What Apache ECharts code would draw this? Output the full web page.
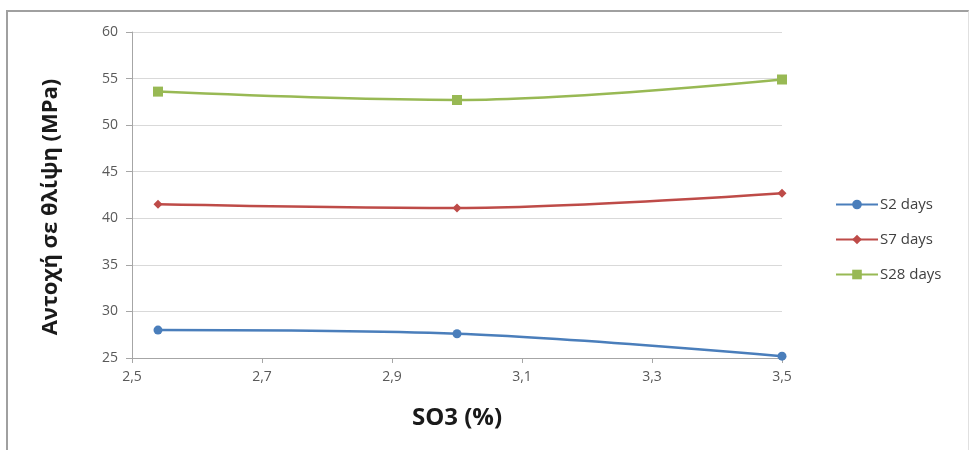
<!DOCTYPE html>
<html><head><meta charset="utf-8">
<script src="https://cdn.jsdelivr.net/npm/echarts@6/dist/echarts.min.js"></script>
<style>
html,body{margin:0;padding:0;background:#fff;}
#frame{position:absolute;left:6px;top:10px;width:963px;height:440px;border-left:2px solid #a0a0a0;border-top:2px solid #a0a0a0;border-right:1px solid #e0e0e0;box-sizing:border-box;}
#c{position:absolute;left:0;top:0;width:971px;height:450px;}
</style></head>
<body><div id="frame"></div><div id="c"></div>
<script>
const so3 = [2.54, 3.0, 3.5];
const s2 = [28.0, 27.6, 25.2];
const s7 = [41.5, 41.1, 42.7];
const s28 = [53.6, 52.7, 54.9];
const seriesNames = ['S2 days', 'S7 days', 'S28 days'];
const colors = ['#4A7EBB', '#BE4B48', '#98B954'];
const symbols = ['circle', 'diamond', 'rect'];
const symbolSizes = [9, 9, 10];
const values = [s2, s7, s28];

const chart = echarts.init(document.getElementById('c'));
const font = '"Open Sans", "Noto Sans", sans-serif';
chart.setOption({
  animation: false,
  backgroundColor: 'transparent',
  grid: {left: 132, right: 189, top: 32, bottom: 92},
  legend: {
    orient: 'vertical', left: 830, top: 192,
    itemWidth: 42, itemHeight: 12, itemGap: 20,
    textStyle: {fontFamily: font, fontSize: 15, color: '#404040', padding: [0, 0, 0, -3]},
    data: seriesNames
  },
  xAxis: {
    type: 'value', min: 2.5, max: 3.5, interval: 0.2,
    name: 'SO3 (%)', nameLocation: 'middle', nameGap: 48,
    nameTextStyle: {fontFamily: font, fontSize: 24, fontWeight: 'bold', color: '#1a1a1a'},
    axisLine: {show: true, lineStyle: {color: '#A6A6A6'}},
    axisTick: {show: true, length: 5, lineStyle: {color: '#A6A6A6'}},
    axisLabel: {fontFamily: font, fontSize: 14, color: '#595959', margin: 12,
      formatter: v => v.toFixed(1).replace('.', ',')},
    splitLine: {show: false}
  },
  yAxis: {
    type: 'value', min: 25, max: 60, interval: 5,
    name: 'Αντοχή σε θλίψη (MPa)', nameLocation: 'middle', nameGap: 70,
    nameTextStyle: {fontFamily: font, fontSize: 22, fontWeight: 'bold', color: '#1a1a1a', padding: [0, 24, 0, 0]},
    axisLine: {show: true, lineStyle: {color: '#A6A6A6'}},
    axisTick: {show: true, length: 6, lineStyle: {color: '#A6A6A6'}},
    axisLabel: {fontFamily: font, fontSize: 14, color: '#595959', margin: 14},
    splitLine: {show: true, lineStyle: {color: '#D9D9D9'}}
  },
  series: seriesNames.map((n, i) => ({
    name: n, type: 'line', smooth: 0.35,
    data: so3.map((x, j) => [x, values[i][j]]),
    symbol: symbols[i], symbolSize: symbolSizes[i],
    itemStyle: {color: colors[i]},
    lineStyle: {color: colors[i], width: 2.5}
  }))
});
</script></body></html>
